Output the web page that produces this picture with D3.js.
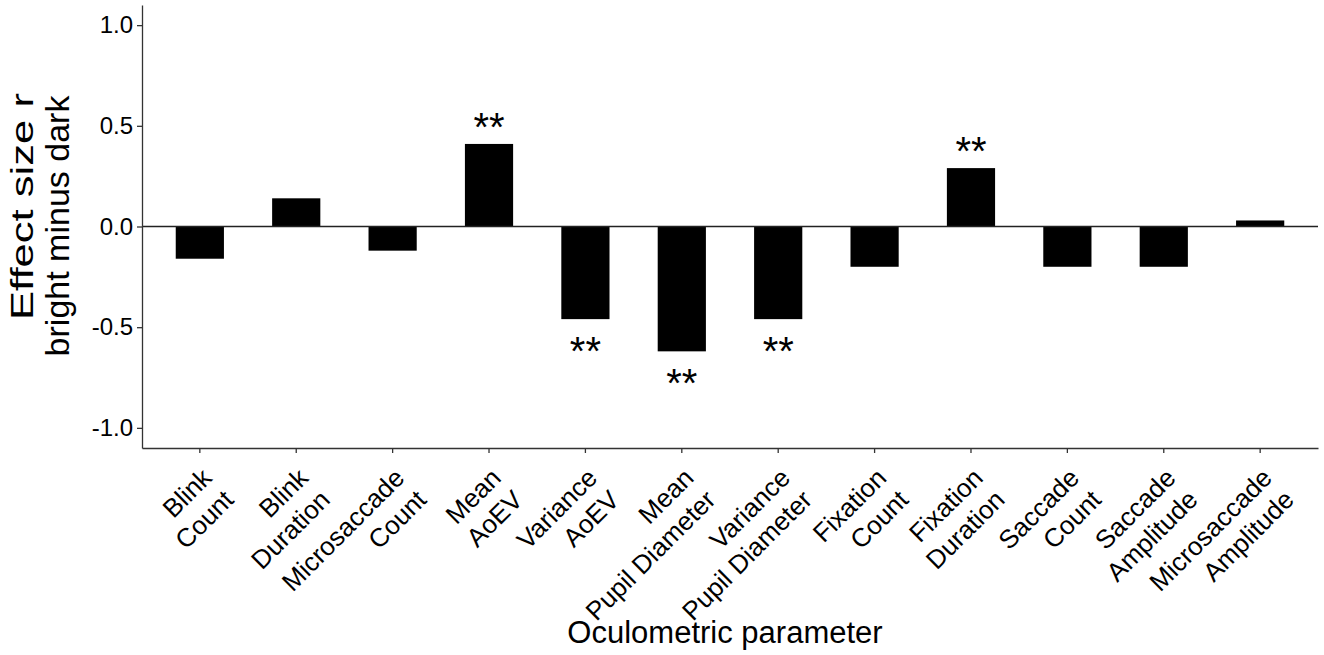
<!DOCTYPE html>
<html>
<head>
<meta charset="utf-8">
<script src="https://cdn.jsdelivr.net/npm/d3@7"></script>
<style>
  body { margin: 0; background: #fff; }
  svg text { font-family: "Liberation Sans", Arial, sans-serif; fill: #000; }
</style>
</head>
<body>
<div id="chart"></div>
<script>
// data
const categories = [
    ["Blink", "Count"],
    ["Blink", "Duration"],
    ["Microsaccade", "Count"],
    ["Mean", "AoEV"],
    ["Variance", "AoEV"],
    ["Mean", "Pupil Diameter"],
    ["Variance", "Pupil Diameter"],
    ["Fixation", "Count"],
    ["Fixation", "Duration"],
    ["Saccade", "Count"],
    ["Saccade", "Amplitude"],
    ["Microsaccade", "Amplitude"]
];
const effectSizes = [-0.16, 0.14, -0.12, 0.41, -0.46, -0.62, -0.46, -0.20, 0.29, -0.20, -0.20, 0.03];
const significance = ["", "", "", "**", "**", "**", "**", "", "**", "", "", ""];
const yTicks = [-1.0, -0.5, 0.0, 0.5, 1.0];

const width = 1324, height = 655;
const margin = {top: 5, right: 6, bottom: 207, left: 142};

const svg = d3.select("#chart").append("svg")
    .attr("width", width)
    .attr("height", height);

const keys = categories.map(d => d.join(" "));

const x = d3.scaleBand()
    .domain(keys)
    .range([margin.left, width - margin.right])
    .paddingInner(0.5)
    .paddingOuter(0.35);

const y = d3.scaleLinear()
    .domain([-1.1, 1.1])
    .range([height - margin.bottom, margin.top]);

// bars
svg.append("g")
    .selectAll("rect")
    .data(effectSizes)
    .enter().append("rect")
    .attr("x", (d, i) => x(keys[i]))
    .attr("width", x.bandwidth())
    .attr("y", d => y(Math.max(0, d)))
    .attr("height", d => Math.abs(y(d) - y(0)))
    .attr("fill", "#000");

// zero line
svg.append("line")
    .attr("x1", margin.left).attr("x2", width - margin.right)
    .attr("y1", y(0)).attr("y2", y(0))
    .attr("stroke", "#222")
    .attr("stroke-width", 1.3);

// significance stars
const starSize = 40;
svg.append("g")
    .selectAll("text")
    .data(effectSizes)
    .enter().append("text")
    .attr("x", (d, i) => x(keys[i]) + x.bandwidth() / 2)
    .attr("y", d => (d >= 0 ? y(d) - 26 : y(d) + 23) + 0.573 * starSize)
    .attr("text-anchor", "middle")
    .style("font-size", starSize + "px")
    .text((d, i) => significance[i]);

// y axis
const yAxis = svg.append("g")
    .attr("transform", "translate(" + margin.left + ",0)")
    .call(d3.axisLeft(y)
        .tickValues(yTicks)
        .tickFormat(d => d.toFixed(1))
        .tickSize(5)
        .tickSizeOuter(0)
        .tickPadding(4));
yAxis.selectAll("text").style("font-size", "24px").attr("fill", "#000");

// x axis
const xAxis = svg.append("g")
    .attr("transform", "translate(0," + (height - margin.bottom) + ")")
    .call(d3.axisBottom(x)
        .tickFormat("")
        .tickSize(5)
        .tickSizeOuter(0));

[yAxis, xAxis].forEach(a => {
    a.select(".domain").attr("stroke", "#333").attr("stroke-width", 1.3);
    a.selectAll(".tick line").attr("stroke", "#333").attr("stroke-width", 1.3);
});

// rotated two-line category labels
const labelSize = 26;
const labels = svg.append("g")
    .selectAll("g")
    .data(categories)
    .enter().append("g")
    .attr("transform", (d, i) => "translate(" + (x(keys[i]) + x.bandwidth() / 2) + "," + (height - margin.bottom + 18) + ") rotate(-45)");

labels.append("text")
    .attr("text-anchor", "end")
    .style("font-size", labelSize + "px")
    .selectAll("tspan")
    .data(d => d)
    .enter().append("tspan")
    .attr("x", 0)
    .attr("y", (d, j) => 19 + j * 31)
    .text(d => d);

// axis titles
svg.append("text")
    .attr("x", 725)
    .attr("y", 643)
    .attr("text-anchor", "middle")
    .style("font-size", "31px")
    .text("Oculometric parameter");

const yTitle = svg.append("g")
    .attr("transform", "rotate(-90)")
    .attr("text-anchor", "middle");
yTitle.append("text")
    .attr("x", -206.5).attr("y", 33)
    .attr("textLength", 227)
    .attr("lengthAdjust", "spacingAndGlyphs")
    .style("font-size", "31px")
    .text("Effect size r");
yTitle.append("text")
    .attr("x", -226).attr("y", 69)
    .style("font-size", "34px")
    .text("bright minus dark");
</script>
</body>
</html>
